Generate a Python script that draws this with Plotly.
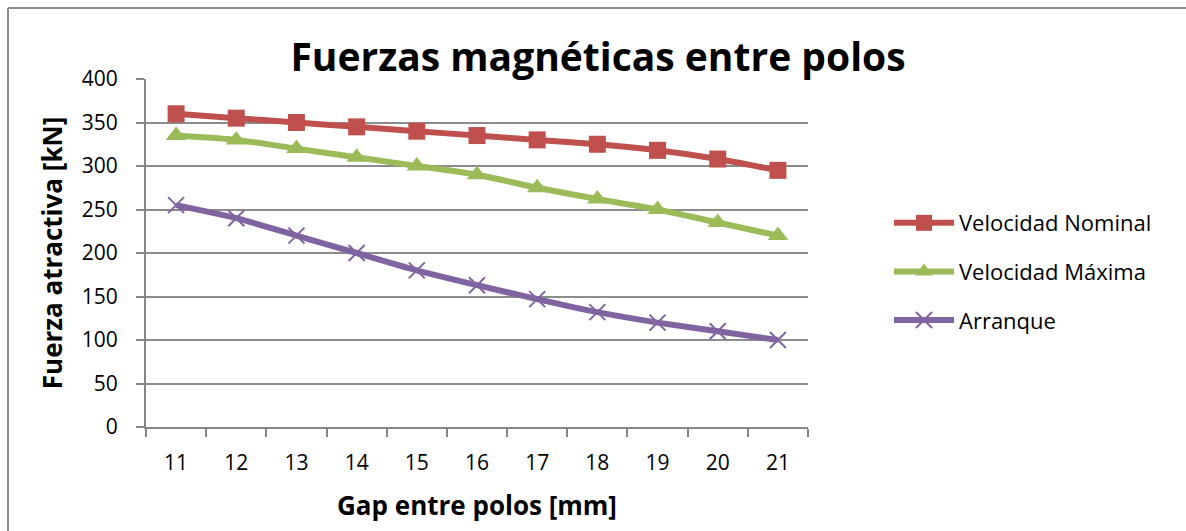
import plotly.graph_objects as go

# Gap between poles (mm) and attractive force (kN) per operating case
gap_mm = ["11", "12", "13", "14", "15", "16", "17", "18", "19", "20", "21"]
velocidad_nominal = [360, 355, 350, 345, 340, 335, 330, 325, 318, 308, 295]
velocidad_maxima = [335, 330, 320, 310, 300, 290, 275, 262, 250, 235, 220]
arranque = [255, 240, 220, 200, 180, 163, 147, 132, 120, 110, 100]
y_ticks = [0, 50, 100, 150, 200, 250, 300, 350, 400]

FONT = "Open Sans"
W, H = 1186, 531
L, R, T, B = 146, 808, 79, 427  # plot area in pixels

fig = go.Figure()

series = [
    ("Velocidad Nominal", velocidad_nominal, "#C0504D",
     dict(symbol="square", size=17, color="#C0504D")),
    ("Velocidad Máxima", velocidad_maxima, "#9BBB59",
     dict(symbol="triangle-up", size=18, color="#9BBB59")),
    ("Arranque", arranque, "#8064A2",
     dict(symbol="x-thin-open", size=16, color="#8064A2",
          line=dict(width=2, color="#8064A2"))),
]
for i, (name, vals, col, mk) in enumerate(series):
    fig.add_trace(go.Scatter(
        x=gap_mm, y=vals, name=name, mode="lines+markers",
        legendgroup=f"g{i}",
        line=dict(color=col, width=6, shape="spline", smoothing=0.6),
        marker=mk,
    ))

# outer chart frame (only top and left edges fall inside the page)
def px_x(p):
    return (p - L) / (R - L)

def px_y(p):
    return (B - p) / (B - T)

fig.add_shape(type="line", xref="paper", yref="paper",
              x0=px_x(8), x1=px_x(1186), y0=px_y(8), y1=px_y(8),
              line=dict(color="#8C8C8C", width=2), layer="below")
fig.add_shape(type="line", xref="paper", yref="paper",
              x0=px_x(8), x1=px_x(8), y0=px_y(8), y1=px_y(531),
              line=dict(color="#8C8C8C", width=2), layer="below")

fig.update_layout(
    width=W, height=H,
    margin=dict(l=L, r=W - R, t=T, b=H - B),
    paper_bgcolor="white", plot_bgcolor="white",
    font=dict(family=FONT, color="black", size=21),
    title=dict(text="<b>Fuerzas magnéticas entre polos</b>",
               font=dict(family=FONT, size=39, color="black"),
               x=598 / W, xanchor="center", y=1 - 57 / H, yanchor="middle"),
    legend=dict(x=px_x(889), y=px_y(202), xanchor="left", yanchor="top",
                font=dict(family=FONT, size=22), tracegroupgap=17,
                traceorder="grouped",
                itemwidth=60, bgcolor="rgba(0,0,0,0)"),
    showlegend=True,
)

fig.update_xaxes(
    type="category", range=[-0.5, 10.5], tickson="boundaries",
    ticks="outside", ticklen=8, tickwidth=2, tickcolor="#868686",
    showline=True, linecolor="#868686", linewidth=2, showgrid=False,
    tickfont=dict(family=FONT, size=21), ticklabelstandoff=16,
    title=dict(text="<b>Gap entre polos [mm]</b>",
               font=dict(family=FONT, size=26), standoff=22),
)
fig.update_yaxes(
    range=[0, 400], tickvals=y_ticks, ticks="outside", ticklen=8,
    tickwidth=2, tickcolor="#868686", showline=True, linecolor="#868686",
    linewidth=2, showgrid=True, gridcolor="#8C8C8C", gridwidth=2,
    zeroline=False, tickfont=dict(family=FONT, size=21),
    ticklabelstandoff=14,
    title=dict(text="<b>Fuerza atractiva [kN]</b>",
               font=dict(family=FONT, size=26), standoff=12),
)

fig.write_html("out.html")
